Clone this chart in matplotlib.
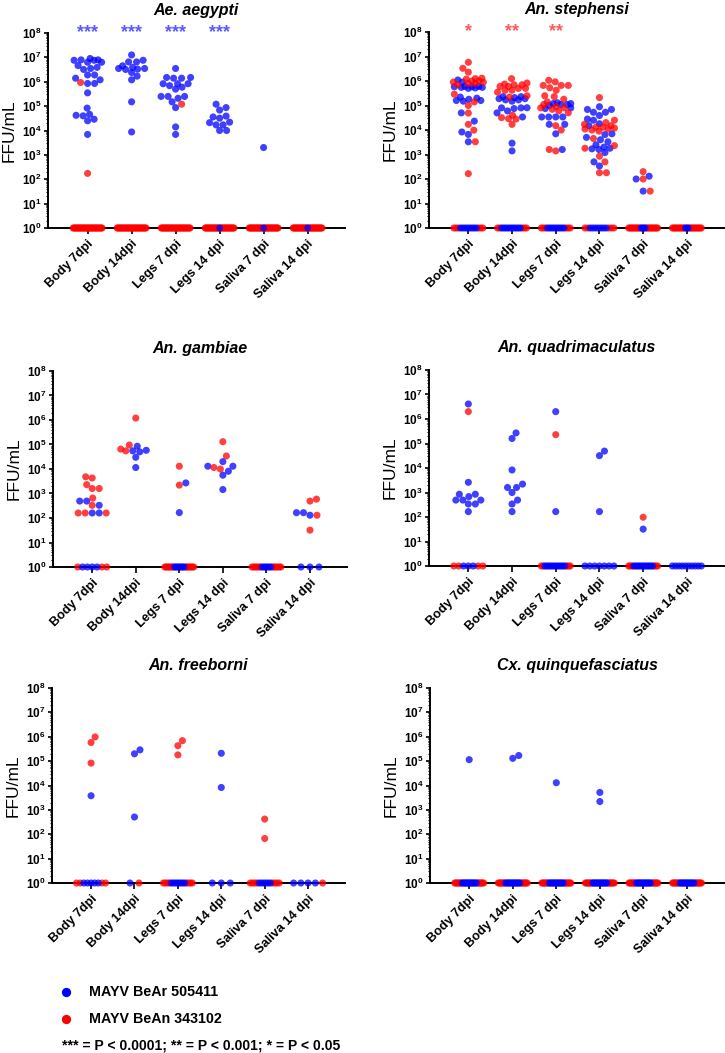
import numpy as np
import matplotlib
matplotlib.use('Agg')
import matplotlib.pyplot as plt
from matplotlib.ticker import LogLocator, FuncFormatter, NullFormatter

plt.rcParams['font.family'] = ['Liberation Sans', 'DejaVu Sans']
plt.rcParams['mathtext.fontset'] = 'custom'
plt.rcParams['mathtext.rm'] = 'Liberation Sans'
plt.rcParams['mathtext.bf'] = 'Liberation Sans:bold'

groups = ['Body 7dpi', 'Body 14dpi', 'Legs 7 dpi', 'Legs 14 dpi', 'Saliva 7 dpi', 'Saliva 14 dpi']
titles = ['Ae. aegypti', 'An. stephensi', 'An. gambiae', 'An. quadrimaculatus',
          'An. freeborni', 'Cx. quinquefasciatus']

# positive titers (FFU/mL) per group; zeros plotted at 10^0 (counts below)
aeg_blue = [
    [9e6, 6.3e6, 7.9e6, 7.6e6, 7.6e6, 7.9e6, 6.3e6, 4.6e6, 3.5e6, 3.2e6, 3.9e6, 1.9e6, 1.9e6,
     1.4e6, 1.2e6, 8.5e5, 8.5e5, 3.5e5, 8.3e4, 4.2e4, 2.9e4, 2.5e4, 4e4, 4.6e4, 6.9e3],
    [1.26e7, 6.5e6, 6.5e6, 7.6e6, 3.9e6, 3.5e6, 3.2e6, 3.3e6, 3.5e6, 4.5e6, 2.4e6, 1.7e6, 1.2e6,
     1.5e5, 8.7e3],
    [3.5e6, 1.5e6, 1.4e6, 1.4e6, 1.5e6, 8.3e5, 6.9e5, 5e5, 6e5, 8.3e5, 8.3e5, 2.5e5, 1.5e5,
     2.5e5, 8.7e4, 2.1e5, 2.5e5, 1.4e4, 6.9e3],
    [1.2e5, 8.7e4, 6.9e4, 3.9e4, 2.2e4, 3.2e4, 3.6e4, 1.7e4, 1.7e4, 2.1e4, 1e4, 1e4],
    [2e3],
    [],
]
aeg_red = [[9.3e5, 174], [], [1.2e5], [], [], []]
aeg_blue_zero = [0, 0, 0, 1, 1, 1]
aeg_red_zero = [30, 30, 30, 30, 30, 30]

steph_blue = [
    [1.1e6, 9e5, 6e5, 5.8e5, 5.5e5, 5.2e5, 5e5, 5.5e5, 5.8e5, 6e5, 2e5, 1.8e5, 1.6e5, 1.5e5,
     1.6e5, 2.2e5, 5e4, 2.3e4, 8.3e3, 6.6e3, 3.3e3],
    [2.3e5, 2.1e5, 1.9e5, 1.7e5, 1.5e5, 1.7e5, 1.9e5, 2.3e5, 8.1e4, 8e4, 7.5e4, 8e4, 6e4, 5e4,
     3.4e4, 2.9e3, 1.4e3],
    [1.3e5, 1.2e5, 1.1e5, 1e5, 1.1e5, 1.2e5, 3.4e4, 3.4e4, 3.4e4, 3.4e4, 1.7e4, 1.7e4, 7e3,
     1.6e3, 7.5e4, 8e4],
    [6.9e4, 5.3e4, 5.3e4, 6.9e4, 8.9e4, 3.9e4, 2.8e4, 2.5e4, 1.8e4, 1.5e4, 7e3, 6.5e3, 5e3, 4e3,
     3.3e3, 2.5e3, 2e3, 1.8e3, 1.6e3, 1.2e3, 1.7e3, 500, 340],
    [130, 100, 32],
    [],
]
steph_red = [
    [5.8e6, 3.3e6, 2.3e6, 1.2e6, 1.25e6, 1e6, 9e5, 8e5, 7e5, 8e5, 9e5, 1e6, 1.3e6, 2.9e5, 1.4e5,
     1e5, 4.9e4, 1.7e4, 9.8e3, 3.3e3, 165],
    [1.25e6, 8.3e5, 7.5e5, 7e5, 6e5, 5e5, 4.2e5, 3.5e5, 4.2e5, 5e5, 6e5, 7e5, 2.5e5, 2.2e5, 4e4,
     3.2e4, 2.9e4, 1.7e4, 2.8e4],
    [1.07e6, 6.6e5, 6.6e5, 6.6e5, 9.2e5, 4.2e5, 5.3e5, 2.3e5, 1.8e5, 1.4e5, 1.1e5, 9e4, 7e4, 6e4,
     5e4, 8e4, 8e4, 1.5e4, 1e4, 1.6e3, 1.4e3, 2.5e5],
    [2.1e5, 2.5e4, 2e4, 1.7e4, 1.5e4, 1.3e4, 1.2e4, 1.1e4, 1e4, 9e3, 1.1e4, 1.3e4, 4.5e3, 2.3e3,
     1.8e3, 850, 500, 180, 180],
    [200, 100, 32],
    [],
]
steph_blue_zero = [8, 10, 9, 7, 4, 3]
steph_red_zero = [6, 5, 6, 5, 20, 20]

gamb_blue = [[330, 490, 490, 160, 160], [8.5e4, 5e4, 5.5e4, 5.8e4, 3e4, 1.15e4], [2.7e3, 166],
             [2e4, 8.1e3, 1.3e4, 1.3e4, 5.6e3, 1.45e3], [], [165, 130, 165]]
gamb_red = [[4.3e3, 4.8e3, 1.6e3, 1.6e3, 2.3e3, 650, 330, 160, 160, 160],
            [1.2e6, 6.5e4, 5.5e4, 9.5e4], [1.3e4, 2.2e3], [1.3e5, 3.4e4, 1.15e4, 1e4], [],
            [590, 490, 130, 32]]
gamb_blue_zero = [4, 0, 8, 0, 6, 3]
gamb_red_zero = [3, 0, 14, 0, 12, 0]

quad_blue = [[4.1e6, 2.6e3, 850, 490, 340, 490, 490, 680, 850, 340, 166],
             [1.6e5, 2.7e5, 8.3e3, 2.2e3, 1e3, 1.6e3, 1.6e3, 490, 340, 166],
             [2e6, 166], [3.2e4, 4.9e4, 166], [32], []]
quad_red = [[2e6], [], [2.3e5], [], [98], []]
quad_blue_zero = [3, 0, 12, 7, 12, 10]
quad_red_zero = [4, 0, 5, 0, 6, 0]

free_blue = [[3.8e3], [2e5, 2.9e5, 510], [], [2.1e5, 8.3e3], [], []]
free_red = [[9.8e5, 5.8e5, 8.3e4], [], [4.3e5, 6.9e5, 1.8e5], [], [420, 67], []]
free_blue_zero = [5, 1, 8, 3, 6, 4]
free_red_zero = [4, 1, 8, 0, 8, 1]

cx_blue = [[1.15e5], [1.7e5, 1.3e5], [1.3e4], [5.2e3, 2.2e3], [], []]
cx_red = [[], [], [], [], [], []]
cx_blue_zero = [14, 14, 14, 14, 14, 14]
cx_red_zero = [14, 14, 14, 14, 14, 14]

panels = [
    (aeg_blue, aeg_red, aeg_blue_zero, aeg_red_zero, ['***', '***', '***', '***', '', ''], 'blue'),
    (steph_blue, steph_red, steph_blue_zero, steph_red_zero, ['*', '**', '**', '', '', ''], 'red'),
    (gamb_blue, gamb_red, gamb_blue_zero, gamb_red_zero, None, None),
    (quad_blue, quad_red, quad_blue_zero, quad_red_zero, None, None),
    (free_blue, free_red, free_blue_zero, free_red_zero, None, None),
    (cx_blue, cx_red, cx_blue_zero, cx_red_zero, None, None),
]

BLUE = '#0000ff'
RED = '#ff0000'
ALPHA = 0.75
W, H = 725, 1053
# axes boxes in pixels: left, top, right, bottom
boxes = [(48, 33, 345, 228), (429, 32, 724, 228),
         (53, 371, 347, 567), (429, 370, 724, 566),
         (52, 688, 345, 883), (430, 688, 724, 883)]
XLIM = (-0.9, 5.85)
D = 6.6      # marker diameter px
CAP = 15.0   # max swarm half width px


def swarm(ypx, d, cap):
    xs = np.zeros(len(ypx))
    placed = []
    order = np.argsort(ypx)
    cand = np.arange(0, cap + 0.01, 0.5)
    for i in order:
        y = ypx[i]

        def clear(s):
            if not placed:
                return 1e9
            p = np.array(placed)
            return np.min(np.hypot(p[:, 0] - s, p[:, 1] - y))
        chosen = None
        best, bestc = 0.0, -1
        for c in cand:
            opts = [0.0] if c == 0 else [c, -c]
            res = [(s, clear(s)) for s in opts]
            good = [s for s, cl in res if cl >= d]
            if good:
                if len(good) == 2:
                    bal = sum(px for px, py in placed if abs(py - y) < d * 2)
                    chosen = good[1] if bal > 0 else good[0]
                else:
                    chosen = good[0]
                break
            for s, cl in res:
                if cl > bestc:
                    best, bestc = s, cl
        if chosen is None:
            chosen = best
        xs[i] = chosen
        placed.append((chosen, y))
    return xs


fig = plt.figure(figsize=(W / 100, H / 100), dpi=100)

for k, (bl, rd, bz, rz, stars, starc) in enumerate(panels):
    l, t, r, b = boxes[k]
    ax = fig.add_axes([l / W, 1 - b / H, (r - l) / W, (b - t) / H])
    ax.set_yscale('log')
    ax.set_ylim(1, 1e8)
    ax.set_xlim(*XLIM)
    hpx = b - t
    ppx = (r - l) / (XLIM[1] - XLIM[0])
    for gi in range(len(groups)):
        vals = list(bl[gi]) + list(rd[gi])
        cols = [BLUE] * len(bl[gi]) + [RED] * len(rd[gi])
        if vals:
            ypx = np.log10(vals) / 8.0 * hpx
            xo = swarm(ypx, D, CAP) / ppx
            vals = np.array(vals)
            cols = np.array(cols)
            for c in (BLUE, RED):
                m = cols == c
                if m.any():
                    ax.scatter(gi + xo[m], vals[m], s=26, color=c, alpha=ALPHA,
                               edgecolors='none', zorder=3, clip_on=False)
        # zero row
        n = bz[gi] + rz[gi]
        if n:
            sp = 0 if n == 1 else min(9.0, 29.0 / (n - 1))
            pos = (np.arange(n) - (n - 1) / 2) * sp
            idx = np.argsort(np.abs(pos), kind='stable')
            zc = np.array([RED] * n)
            zc[idx[:bz[gi]]] = BLUE
            for c in (RED, BLUE):
                m = zc == c
                if m.any():
                    ax.scatter(gi + pos[m] / ppx, np.ones(m.sum()), s=26, color=c,
                               alpha=ALPHA, edgecolors='none', zorder=4, clip_on=False)
        if stars and stars[gi]:
            ax.text(gi, 1e8, stars[gi], ha='center', va='center', fontsize=13,
                    color=BLUE if starc == 'blue' else RED, alpha=0.65, fontweight='bold')

    for s in ('top', 'right'):
        ax.spines[s].set_visible(False)
    for s in ('left', 'bottom'):
        ax.spines[s].set_linewidth(1.4)
    ax.yaxis.set_major_locator(LogLocator(base=10, numticks=20))
    ax.yaxis.set_minor_locator(LogLocator(base=10, subs=np.arange(2, 10), numticks=20))
    ax.yaxis.set_minor_formatter(NullFormatter())
    ax.yaxis.set_major_formatter(FuncFormatter(
        lambda v, _: r'$\mathbf{10^{%d}}$' % int(round(np.log10(v)))))
    ax.tick_params(axis='y', which='major', length=3, width=1.2, labelsize=8.5, pad=1.5)
    ax.tick_params(axis='y', which='minor', length=1.5, width=0.8)
    ax.set_xticks(range(len(groups)))
    ax.set_xticklabels(groups, rotation=45, ha='right', rotation_mode='anchor',
                       fontsize=9.2, fontweight='bold')
    ax.tick_params(axis='x', length=4, width=1.2, pad=3)
    ax.set_ylabel('FFU/mL', fontsize=12.5, labelpad=4)
    ax.set_title(titles[k], fontsize=11.5, fontweight='bold', fontstyle='italic', pad=13)

# legend
lg = fig.add_axes([0, 0, 1, 1])
lg.axis('off')
lg.set_xlim(0, W)
lg.set_ylim(H, 0)
lg.scatter([66], [992], s=32, color=BLUE)
lg.scatter([66], [1019], s=32, color=RED)
lg.text(89, 992, 'MAYV BeAr 505411', fontsize=10.3, fontweight='bold', va='center')
lg.text(89, 1019, 'MAYV BeAn 343102', fontsize=10.3, fontweight='bold', va='center')
lg.text(62, 1046, '*** = P < 0.0001; ** = P < 0.001; * = P < 0.05', fontsize=10.1,
        fontweight='bold', va='center')

fig.savefig('out.png', dpi=100)
